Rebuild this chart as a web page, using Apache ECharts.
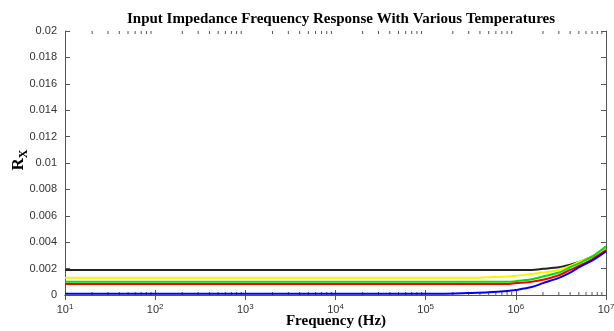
<!DOCTYPE html>
<html>
<head>
<meta charset="utf-8">
<script src="https://cdn.jsdelivr.net/npm/echarts@6/dist/echarts.min.js"></script>
<style>
  html, body { margin: 0; padding: 0; background: #fff; }
  #chart { width: 614px; height: 331px; }
</style>
</head>
<body>
<div id="chart"></div>
<script>
// frequency points (Hz) shared by every curve
var freq = [10, 1e5, 1.5e5, 3e5, 5e5, 8e5, 1e6, 1.5e6, 2e6, 3e6, 4e6, 5e6, 7e6, 1e7];

var blackVals  = [0.0019, 0.0019, 0.0019, 0.0019, 0.0019, 0.0019, 0.0019, 0.0019, 0.00198, 0.0021, 0.0023, 0.0025, 0.0029, 0.0035];
var yellowVals = [0.0013, 0.0013, 0.0013, 0.0013, 0.00135, 0.0014, 0.00145, 0.0016, 0.0017, 0.0019, 0.0022, 0.0025, 0.0029, 0.0035];
var greenVals  = [0.001, 0.001, 0.001, 0.001, 0.001, 0.001, 0.00105, 0.0012, 0.0014, 0.0017, 0.0021, 0.0024, 0.0029, 0.0037];
var redVals    = [0.00083, 0.00083, 0.00083, 0.00083, 0.00083, 0.00083, 0.0009, 0.001, 0.00115, 0.0015, 0.0019, 0.0022, 0.0027, 0.0034];
var blueVals   = [0.0001, 0.0001, 0.0001, 0.00015, 0.0002, 0.0003, 0.00038, 0.0006, 0.0009, 0.0013, 0.0017, 0.0021, 0.0026, 0.0033];

var seriesNames  = ['black', 'yellow', 'green', 'red', 'blue'];
var seriesColors = ['#222222', '#f5f500', '#00e000', '#ff0000', '#0000ff'];
var seriesVals   = [blackVals, yellowVals, greenVals, redVals, blueVals];

// minor ticks 2..9 in every decade
var minorTicks = [];
for (var d = 1; d < 7; d++) {
    for (var k = 2; k <= 9; k++) minorTicks.push(k * Math.pow(10, d));
}

var chart = echarts.init(document.getElementById('chart'));

var series = [];
for (var i = 0; i < seriesNames.length; i++) {
    series.push({
        name: seriesNames[i],
        type: 'line',
        smooth: 0.3,
        showSymbol: false,
        lineStyle: { color: seriesColors[i], width: 2 },
        data: freq.map(function (f, j) { return [f, seriesVals[i][j]]; }),
        z: 3
    });
}

// minor tick marks along top and bottom edges
series.push({
    type: 'custom',
    silent: true,
    data: minorTicks,
    renderItem: function (params, api) {
        var pb = api.coord([api.value(0), 0]);
        var pt = api.coord([api.value(0), 0.02]);
        var s = { stroke: '#555', lineWidth: 1 };
        return {
            type: 'group',
            children: [
                { type: 'line', shape: { x1: pb[0], y1: pb[1], x2: pb[0], y2: pb[1] - 3 }, style: s },
                { type: 'line', shape: { x1: pt[0], y1: pt[1], x2: pt[0], y2: pt[1] + 3 }, style: s }
            ]
        };
    },
    encode: { x: 0 },
    z: 1
});

var sup = { fontSize: 8, verticalAlign: 'top', padding: [0, 0, 6, 0], color: '#333', fontFamily: 'Liberation Sans' };

chart.setOption({
    animation: false,
    backgroundColor: '#fff',
    title: {
        text: 'Input Impedance Frequency Response With Various Temperatures',
        left: 336,
        textAlign: 'center',
        top: 7,
        textStyle: { fontFamily: 'Liberation Serif', fontWeight: 'bold', fontSize: 15, color: '#000' }
    },
    grid: { left: 65, right: 8, top: 31, bottom: 36, containLabel: false, outerBoundsMode: 'none' },
    graphic: [{
        type: 'text',
        x: 336,
        y: 321,
        style: {
            text: 'Frequency (Hz)',
            align: 'center',
            verticalAlign: 'middle',
            fill: '#000',
            font: 'bold 15px "Liberation Serif"'
        }
    }, {
        type: 'text',
        x: 19,
        y: 160,
        rotation: Math.PI / 2,
        style: {
            text: '{r|R}{s|X}',
            align: 'center',
            verticalAlign: 'middle',
            rich: {
                r: { fontFamily: 'Liberation Serif', fontWeight: 'bold', fontSize: 17, fill: '#000', color: '#000' },
                s: { fontFamily: 'Liberation Serif', fontWeight: 'bold', fontSize: 12, fill: '#000', color: '#000', padding: [9, 0, 0, 0] }
            }
        }
    }],
    xAxis: [{
        type: 'log',
        logBase: 10,
        min: 10,
        max: 1e7,
        axisLine: { lineStyle: { color: '#555', width: 1 } },
        axisTick: { inside: true, length: 5, lineStyle: { color: '#555' } },
        splitLine: { show: false },
        axisLabel: {
            color: '#333',
            fontFamily: 'Liberation Sans',
            fontSize: 11,
            margin: 8,
            formatter: function (v) {
                return '10{sup|' + Math.round(Math.log10(v)) + '}';
            },
            rich: { sup: sup }
        }
    }, {
        type: 'log',
        logBase: 10,
        min: 10,
        max: 1e7,
        position: 'top',
        axisLine: { lineStyle: { color: '#555', width: 1 } },
        axisTick: { inside: true, length: 5, lineStyle: { color: '#555' } },
        axisLabel: { show: false },
        splitLine: { show: false }
    }],
    yAxis: [{
        type: 'value',
        min: 0,
        max: 0.02,
        interval: 0.002,
        axisLine: { show: true, lineStyle: { color: '#555', width: 1 } },
        axisTick: { show: true, inside: true, length: 5, lineStyle: { color: '#555' } },
        splitLine: { show: false },
        axisLabel: {
            color: '#333',
            fontFamily: 'Liberation Sans',
            fontSize: 11,
            margin: 8,
            formatter: function (v) { return String(parseFloat(v.toFixed(3))); }
        }
    }, {
        type: 'value',
        min: 0,
        max: 0.02,
        interval: 0.002,
        position: 'right',
        axisLine: { show: true, lineStyle: { color: '#555', width: 1 } },
        axisTick: { show: true, inside: true, length: 5, lineStyle: { color: '#555' } },
        axisLabel: { show: false },
        splitLine: { show: false }
    }],
    series: series
});
</script>
</body>
</html>
